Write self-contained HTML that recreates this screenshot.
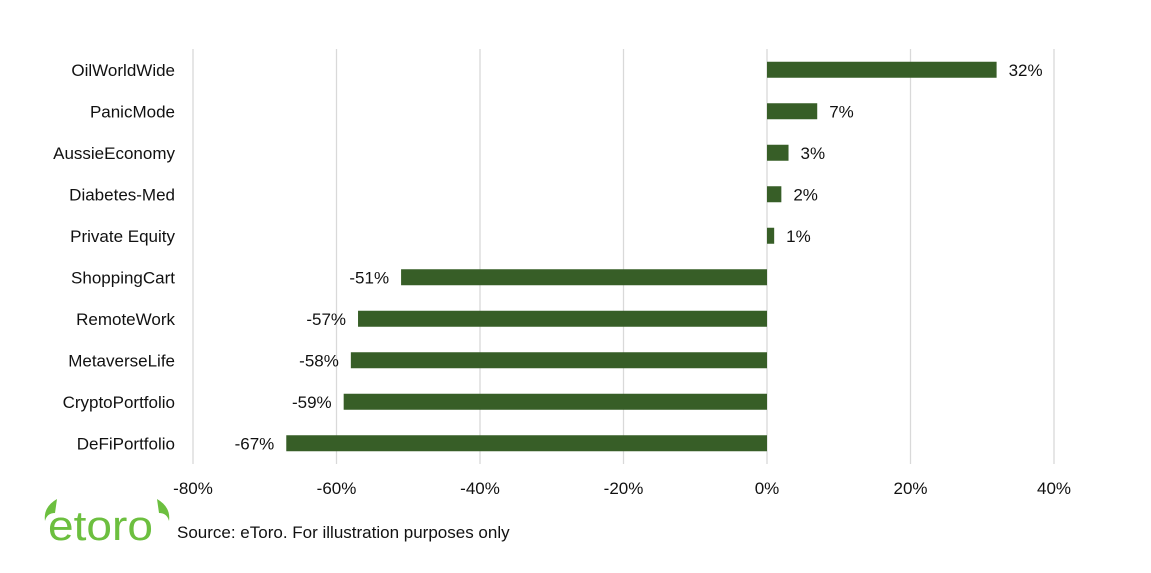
<!DOCTYPE html>
<html><head><meta charset="utf-8"><style>
html,body{margin:0;padding:0;background:#fff;}
svg{display:block;font-family:"Liberation Sans",Arial,sans-serif;}
</style></head><body>
<svg id="chart" width="1151" height="573" viewBox="0 0 1151 573" xmlns="http://www.w3.org/2000/svg">
<g id="grid"></g>
<g id="bars"></g>
<g id="labels"></g>
<g id="ticks"></g>
<g>
  <text x="48" y="540" font-size="42" fill="#6cbf3f" textLength="105" lengthAdjust="spacingAndGlyphs">etoro</text>
  <path d="M57 499 q-14 8 -12 22 q2 -8 10 -8 z" fill="#6cbf3f"/>
  <path d="M157 499 q14 8 12 22 q-2 -8 -10 -8 z" fill="#6cbf3f"/>
</g>
<text x="177" y="538" font-size="17" fill="#111">Source: eToro. For illustration purposes only</text>
</svg>
<script>
const categories = ["OilWorldWide","PanicMode","AussieEconomy","Diabetes-Med","Private Equity","ShoppingCart","RemoteWork","MetaverseLife","CryptoPortfolio","DeFiPortfolio"];
const values = [32,7,3,2,1,-51,-57,-58,-59,-67];
const tickValues = [-80,-60,-40,-20,0,20,40];
const tickLabels = ["-80%","-60%","-40%","-20%","0%","20%","40%"];

const NS = "http://www.w3.org/2000/svg";
const x0 = 767, pxPer = 7.175;
function xScale(v){ return x0 + v*pxPer; }
const plotTop = 49, plotBottom = 464, band = (plotBottom-plotTop)/categories.length;
function yScale(i){ return plotTop + band*(i+0.5); }
function mk(tag, attrs, parent){ const e=document.createElementNS(NS,tag); for(const k in attrs) e.setAttribute(k,attrs[k]); parent.appendChild(e); return e; }

const grid=document.getElementById('grid'), bars=document.getElementById('bars'), labels=document.getElementById('labels'), ticks=document.getElementById('ticks');
tickValues.forEach((t,i)=>{
  const l = mk('line',{x1:xScale(t),x2:xScale(t),y1:plotTop,y2:plotBottom,stroke:'#d9d9d9','stroke-width':1.3},grid);
  
  
  const tx = mk('text',{x:xScale(t),y:494,'font-size':17,'text-anchor':'middle',fill:'#111'},ticks);
  tx.textContent = tickLabels[i];
  
  
});
categories.forEach((c,i)=>{
  const v=values[i], y=yScale(i), h=16;
  const r = mk('rect',{x:Math.min(xScale(0),xScale(v)),y:y-h/2,width:Math.abs(xScale(v)-xScale(0)),height:h,fill:'#375e27'},bars);
  
  
  const vl = mk('text',{x: v>=0 ? xScale(v)+12 : xScale(v)-12, y:y+6,'font-size':17,'text-anchor': v>=0?'start':'end',fill:'#111'},bars);
  vl.textContent = v + '%';
  
  
  const cl = mk('text',{x:175,y:y+6,'font-size':17,'text-anchor':'end',fill:'#111'},labels);
  cl.textContent = c;
  
  
});
</script>
</body></html>
